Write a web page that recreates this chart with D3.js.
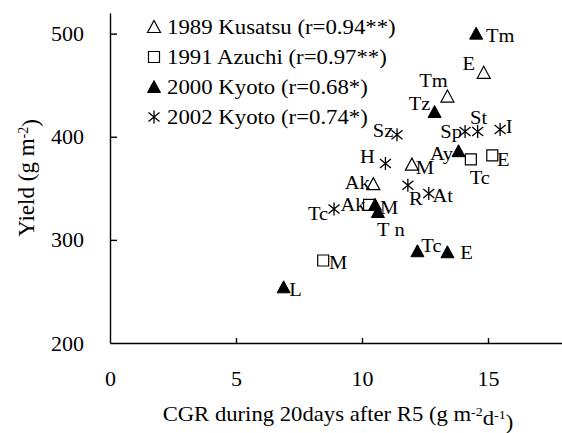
<!DOCTYPE html>
<html lang="en">
<head>
<meta charset="UTF-8" />
<title>Yield vs CGR</title>
<script src="https://cdnjs.cloudflare.com/ajax/libs/d3/7.8.5/d3.min.js"></script>
<style>
    body { margin: 0; padding: 0; background: #fff; }
    svg text { font-family: 'Liberation Serif', 'Times New Roman', serif; fill: #000; }
    .axis path, .axis line { stroke: #000; stroke-width: 1.4px; }
    .axis text { font-size: 22px; font-family: 'Liberation Serif', serif; }
    .pt-label { font-size: 19px; }
    .legend text { font-size: 20px; }
</style>
</head>
<body>
<svg id="chart" width="562" height="433"></svg>
<script>
    // data: [CGR (g m-2 d-1), yield (g m-2), cultivar label]
    const kusatsu1989 = [
        [14.83, 462, "E"], [13.39, 439, "Tm"], [11.98, 373, "M"], [10.45, 354, "Ak"]
    ];
    const azuchi1991 = [
        [14.32, 378, "Tc"], [15.17, 382, "E"], [10.28, 334, "Ak"], [8.46, 280, "M"]
    ];
    const kyoto2000 = [
        [14.53, 500, "Tm"], [12.88, 424, "Tz"], [13.83, 386, "Ay"], [10.52, 334, "M"],
        [10.63, 327, "T n"], [12.2, 289, "Tc"], [13.39, 288, "E"], [6.89, 254, "L"]
    ];
    const kyoto2002 = [
        [11.39, 402, "Sz"], [14.09, 405, "Sp"], [14.59, 405, "St"], [15.48, 407, "I"],
        [10.93, 374, "H"], [11.82, 353, "R"], [12.65, 345, "At"], [8.89, 330, "Tc"]
    ];
    const legendLabels = [
        "1989 Kusatsu (r=0.94**)", "1991 Azuchi (r=0.97**)",
        "2000 Kyoto (r=0.68*)", "2002 Kyoto (r=0.74*)"
    ];
    const xTicks = [0, 5, 10, 15];
    const yTicks = [200, 300, 400, 500];

    // label offsets (px) per series, same order as data
    const labelOffsets = {
        kusatsu1989: [[-15, -9], [-14, -16], [13, 3], [-16, -2]],
        azuchi1991: [[9, 18], [11, 4], [-16, 0], [15, 2]],
        kyoto2000: [[24, 2], [-15, -9], [-17, 2], [14, 3], [13, 17], [14, -6], [19, 0], [12, 2]],
        kyoto2002: [[-14, -4], [-14, 0], [1, -14], [9, -3], [-18, -7], [8, 13], [14, 2], [-16, 4]]
    };

    const svg = d3.select("#chart");
    const x = d3.scaleLinear().domain([0, 18]).range([110, 563.6]);
    const y = d3.scaleLinear().domain([200, 520]).range([343, 13]);

    // x axis
    const xAxis = svg.append("g")
        .attr("class", "axis")
        .attr("transform", "translate(0,343)")
        .call(d3.axisBottom(x).tickValues(xTicks).tickSizeInner(-5).tickSizeOuter(0).tickPadding(27));
    xAxis.selectAll(".tick").filter(d => d === 0).select("line").remove();

    // y axis
    const yAxis = svg.append("g")
        .attr("class", "axis")
        .attr("transform", "translate(110,0)")
        .call(d3.axisLeft(y).tickValues(yTicks).tickSizeInner(-7).tickSizeOuter(0).tickPadding(26));
    yAxis.selectAll(".tick").filter(d => d === 200).select("line").remove();

    // axis titles (source figure type is slightly wide, hence the scaleX)
    const xt = svg.append("text")
        .attr("transform", "translate(338,414) scale(1.08,1)")
        .attr("dy", "0.35em")
        .attr("text-anchor", "middle")
        .style("font-size", "21px");
    xt.append("tspan").text("CGR during 20days after R5 (g m");
    xt.append("tspan").attr("dy", "-0.45em").style("font-size", "13px").text("-2");
    xt.append("tspan").attr("dy", "0.45em").text("d");
    xt.append("tspan").attr("dy", "-0.45em").style("font-size", "13px").text("-1");
    xt.append("tspan").attr("dy", "0.45em").text(")");

    const yt = svg.append("text")
        .attr("transform", "translate(26,178) rotate(-90)")
        .attr("dy", "0.35em")
        .attr("text-anchor", "middle")
        .style("font-size", "23px");
    yt.append("tspan").text("Yield (g m");
    yt.append("tspan").attr("dy", "-0.45em").style("font-size", "14px").text("-2");
    yt.append("tspan").attr("dy", "0.45em").text(")");

    // marker shapes
    const tri = "M0,-6.5L6.5,5.5L-6.5,5.5Z";
    const sq = "M-5.5,-5.5H5.5V5.5H-5.5Z";
    const star = "M0,-6.5V6.5M-5.5,-4.5L5.5,4.5M-5.5,4.5L5.5,-4.5";

    const series = [
        { key: "kusatsu1989", data: kusatsu1989, d: tri, fill: "#fff", sw: 1.2 },
        { key: "azuchi1991", data: azuchi1991, d: sq, fill: "#fff", sw: 1.2 },
        { key: "kyoto2000", data: kyoto2000, d: tri, fill: "#000", sw: 1 },
        { key: "kyoto2002", data: kyoto2002, d: star, fill: "none", sw: 1.3 }
    ];

    series.forEach(s => {
        const g = svg.append("g");
        g.selectAll("path")
            .data(s.data)
            .join("path")
            .attr("transform", d => `translate(${x(d[0])},${y(d[1])})`)
            .attr("d", s.d)
            .attr("fill", s.fill)
            .attr("stroke", "#000")
            .attr("stroke-width", s.sw);
        g.selectAll("text")
            .data(s.data)
            .join("text")
            .attr("class", "pt-label")
            .attr("transform", (d, i) => {
                const o = labelOffsets[s.key][i];
                return `translate(${x(d[0]) + o[0]},${y(d[1]) + o[1]}) scale(1.08,1)`;
            })
            .attr("dy", "0.35em")
            .attr("text-anchor", "middle")
            .text(d => d[2]);
    });

    // legend
    const legend = svg.append("g").attr("class", "legend");
    const legendRows = legend.selectAll("g")
        .data(legendLabels)
        .join("g")
        .attr("transform", (d, i) => `translate(154,${27 + i * 30})`);
    legendRows.append("path")
        .attr("d", (d, i) => series[i].d)
        .attr("fill", (d, i) => series[i].fill)
        .attr("stroke", "#000")
        .attr("stroke-width", (d, i) => series[i].sw);
    legendRows.append("text")
        .attr("transform", "translate(13,0) scale(1.14,1)")
        .attr("dy", "0.35em")
        .text(d => d);
</script>
</body>
</html>
